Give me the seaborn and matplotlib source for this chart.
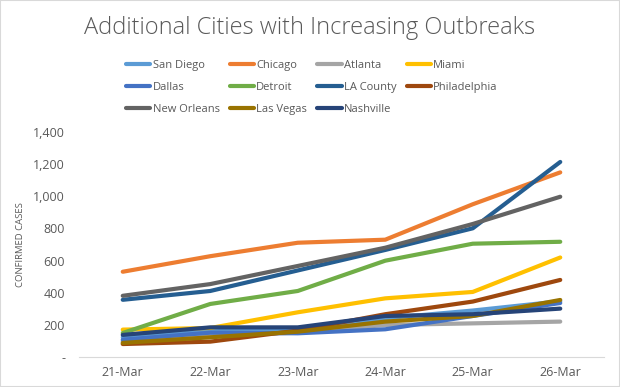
import pandas as pd
import matplotlib.pyplot as plt
import seaborn as sns
from matplotlib.lines import Line2D
from matplotlib.patches import Rectangle
from matplotlib.ticker import FuncFormatter

# Confirmed cases per city
dates = ['21-Mar', '22-Mar', '23-Mar', '24-Mar', '25-Mar', '26-Mar']
san_diego = [121, 158, 175, 240, 288, 346]
chicago = [530, 627, 711, 730, 951, 1150]
atlanta = [95, 131, 150, 198, 208, 219]
miami = [169, 179, 277, 364, 404, 619]
dallas = [106, 150, 146, 171, 254, 335]
detroit = [148, 329, 410, 599, 705, 717]
la_county = [355, 410, 538, 666, 801, 1215]
philadelphia = [79, 94, 163, 265, 344, 479]
new_orleans = [380, 453, 566, 680, 828, 998]
las_vegas = [86, 121, 156, 219, 254, 354]
nashville = [136, 183, 183, 254, 265, 300]

cities = ['San Diego', 'Chicago', 'Atlanta', 'Miami', 'Dallas', 'Detroit',
          'LA County', 'Philadelphia', 'New Orleans', 'Las Vegas', 'Nashville']
series = [san_diego, chicago, atlanta, miami, dallas, detroit,
          la_county, philadelphia, new_orleans, las_vegas, nashville]
colors = ['#5B9BD5', '#ED7D31', '#A5A5A5', '#FFC000', '#4472C4', '#70AD47',
          '#255E91', '#9E480E', '#636363', '#997300', '#264478']

rows = []
for city, vals in zip(cities, series):
    for d, v in zip(dates, vals):
        rows.append({'City': city, 'Date': d, 'Cases': v})
df = pd.DataFrame(rows)
df['Date'] = pd.Categorical(df['Date'], categories=dates, ordered=True)

sns.set_style('white')
plt.rcParams['font.family'] = ['Open Sans', 'DejaVu Sans']
grey = '#595959'

fig = plt.figure(figsize=(6.2, 3.87), dpi=100)
ax = fig.add_axes([79 / 620, 1 - 356.7 / 387, (604 - 79) / 620, (356.7 - 132.3) / 387])

palette = dict(zip(cities, colors))
sns.lineplot(data=df, x='Date', y='Cases', hue='City', palette=palette,
             hue_order=cities, linewidth=3, legend=False, ax=ax, sort=False)

ax.set_xlim(-0.5, 5.5)
ax.set_ylim(0, 1400)
ax.set_yticks(range(0, 1401, 200))
ax.yaxis.set_major_formatter(FuncFormatter(lambda v, p: '-' if v == 0 else f'{int(v):,}'))
ax.set_xticks(range(6))
ax.set_xticklabels(dates)
ax.set_xticks([i - 0.5 for i in range(7)], minor=True)
ax.tick_params(axis='x', which='major', length=0, pad=7, labelsize=9, colors=grey)
ax.tick_params(axis='x', which='minor', length=5, color='#D9D9D9', direction='out')
ax.tick_params(axis='y', length=0, pad=10, labelsize=9, colors=grey)
ax.set_xlabel('')
ax.set_ylabel('CONFIRMED CASES', fontsize=6.8, color=grey, labelpad=6)

for side in ['top', 'right', 'left']:
    ax.spines[side].set_visible(False)
ax.spines['bottom'].set_color('#D9D9D9')
ax.grid(False)

fig.text(0.5, 1 - 28 / 387, 'Additional Cities with Increasing Outbreaks',
         ha='center', va='center', fontsize=17, color=grey, fontweight='light')

order = [0, 4, 8, 1, 5, 9, 2, 6, 10, 3, 7]
handles = [Line2D([], [], color=colors[i], linewidth=3) for i in order]
labels = [cities[i] for i in order]
fig.legend(handles, labels, ncol=4, loc='upper left', bbox_to_anchor=(116 / 620, 1 - 50 / 387),
           frameon=False, fontsize=8, labelcolor=grey, handlelength=2.2, handletextpad=0.2,
           columnspacing=0.9, labelspacing=1.0)

fig.patches.append(Rectangle((0, 0), 1, 1, transform=fig.transFigure, fill=False,
                             edgecolor='#D9D9D9', linewidth=1.5))

fig.savefig('out.png', dpi=100)
